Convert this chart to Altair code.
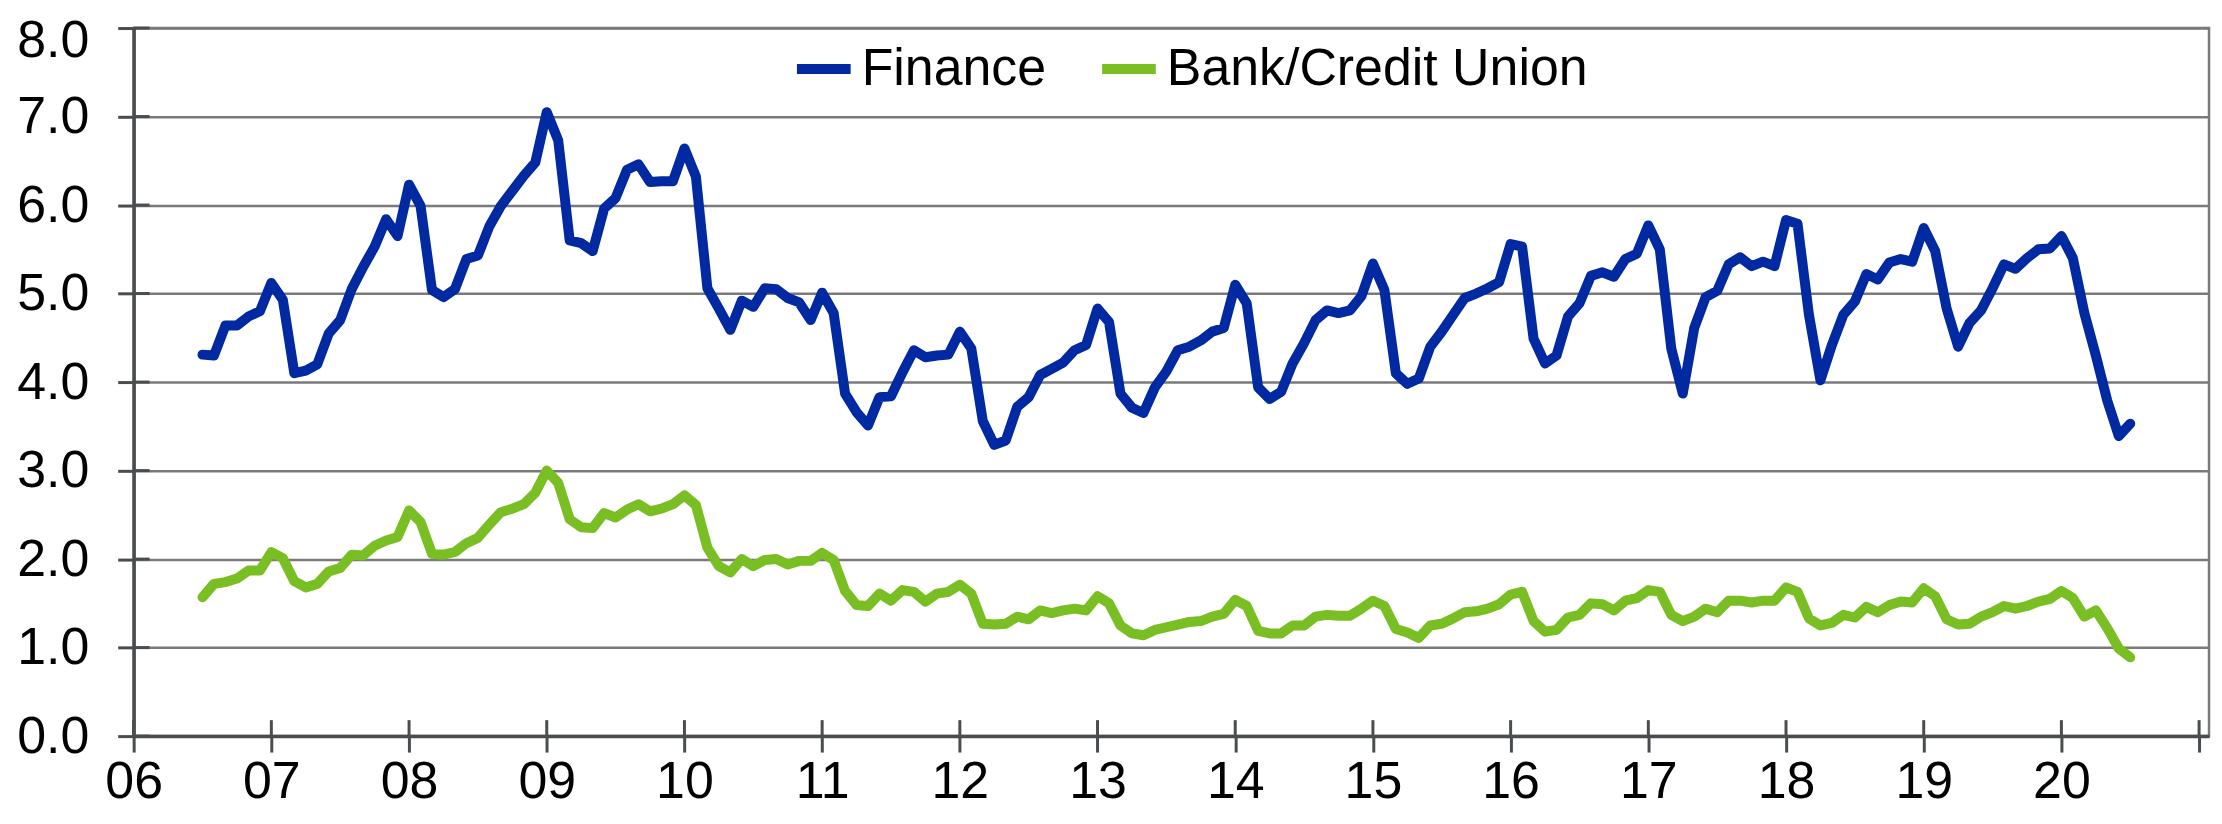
import altair as alt
import pandas as pd

# ---- data (monthly, Jul 2006 .. Jul 2020) ----
series_names = ["Finance", "Bank/Credit Union"]
series_colors = ["#0029A2", "#79BE22"]
start_year, start_month = 2006, 7

finance = [
    4.31, 4.30, 4.64, 4.64, 4.74, 4.80, 5.12, 4.93, 4.10, 4.13, 4.20, 4.55,
    4.70, 5.05, 5.30, 5.53, 5.84, 5.65, 6.23, 5.99, 5.04, 4.96, 5.05, 5.39,
    5.43, 5.76, 5.99, 6.16, 6.33, 6.48, 7.05, 6.73, 5.60, 5.57, 5.48, 5.96,
    6.08, 6.40, 6.46, 6.26, 6.27, 6.27, 6.64, 6.32, 5.06, 4.83, 4.59, 4.92,
    4.85, 5.06, 5.05, 4.95, 4.90, 4.70, 5.01, 4.78, 3.87, 3.66, 3.51, 3.83,
    3.84, 4.11, 4.36, 4.28, 4.30, 4.31, 4.57, 4.38, 3.56, 3.29, 3.34, 3.72,
    3.83, 4.08, 4.15, 4.22, 4.36, 4.42, 4.83, 4.68, 3.87, 3.71, 3.65, 3.94,
    4.12, 4.36, 4.40, 4.47, 4.57, 4.61, 5.10, 4.89, 3.94, 3.81, 3.89, 4.21,
    4.44, 4.70, 4.81, 4.78, 4.81, 4.97, 5.34, 5.04, 4.10, 3.98, 4.04, 4.40,
    4.57, 4.76, 4.95, 5.00, 5.06, 5.13, 5.56, 5.53, 4.49, 4.21, 4.30, 4.74,
    4.89, 5.20, 5.24, 5.19, 5.39, 5.45, 5.77, 5.50, 4.38, 3.87, 4.61, 4.96,
    5.03, 5.33, 5.41, 5.31, 5.36, 5.31, 5.83, 5.79, 4.76, 4.02, 4.42, 4.76,
    4.91, 5.22, 5.16, 5.35, 5.39, 5.36, 5.74, 5.48, 4.83, 4.40, 4.67, 4.81,
    5.06, 5.33, 5.28, 5.40, 5.50, 5.51, 5.65, 5.40, 4.78, 4.30, 3.79, 3.39, 3.53,
]

bank = [
    1.57, 1.72, 1.74, 1.78, 1.87, 1.87, 2.08, 2.01, 1.75, 1.68, 1.72, 1.86,
    1.90, 2.05, 2.04, 2.15, 2.21, 2.25, 2.55, 2.42, 2.06, 2.05, 2.08, 2.18,
    2.24, 2.39, 2.53, 2.57, 2.62, 2.75, 3.00, 2.86, 2.45, 2.36, 2.35, 2.52,
    2.47, 2.56, 2.62, 2.54, 2.57, 2.62, 2.72, 2.61, 2.13, 1.92, 1.85, 2.00,
    1.92, 1.99, 2.00, 1.94, 1.98, 1.98, 2.07, 1.99, 1.64, 1.48, 1.47, 1.61,
    1.53, 1.65, 1.63, 1.52, 1.61, 1.63, 1.71, 1.61, 1.27, 1.26, 1.27, 1.35,
    1.32, 1.42, 1.39, 1.42, 1.44, 1.42, 1.58, 1.50, 1.25, 1.16, 1.14, 1.20,
    1.23, 1.26, 1.29, 1.30, 1.35, 1.38, 1.54, 1.47, 1.19, 1.16, 1.16, 1.25,
    1.25, 1.35, 1.37, 1.36, 1.36, 1.44, 1.53, 1.47, 1.21, 1.17, 1.11, 1.25,
    1.27, 1.33, 1.40, 1.41, 1.44, 1.49, 1.60, 1.63, 1.30, 1.18, 1.20, 1.34,
    1.37, 1.50, 1.49, 1.42, 1.53, 1.56, 1.65, 1.63, 1.37, 1.30, 1.35, 1.44,
    1.40, 1.53, 1.53, 1.51, 1.53, 1.53, 1.68, 1.63, 1.33, 1.25, 1.28, 1.37,
    1.34, 1.46, 1.40, 1.48, 1.52, 1.51, 1.67, 1.58, 1.32, 1.26, 1.27, 1.35,
    1.40, 1.47, 1.44, 1.47, 1.52, 1.55, 1.64, 1.56, 1.35, 1.42, 1.22, 0.99, 0.89,
]

year_ticks = list(range(2006, 2022))
y_ticks = [0, 1, 2, 3, 4, 5, 6, 7, 8]

n = len(finance)
t = [start_year + (start_month - 1) / 12 + k / 12 for k in range(n)]
df = pd.DataFrame({
    "t": t + t,
    "value": finance + bank,
    "series": [series_names[0]] * n + [series_names[1]] * n,
})

W, H = 2081, 710
AX = "#4a4d50"
GRID = "#7a7a7a"
FONT = "Liberation Sans"

x_scale = alt.Scale(domain=[2006, 2021.072], nice=False, zero=False)
y_scale = alt.Scale(domain=[0, 8], nice=False, zero=True)

lines = alt.Chart(df).mark_line(strokeWidth=10, strokeCap="round", strokeJoin="round").encode(
    x=alt.X("t:Q", scale=x_scale, title=None,
            axis=alt.Axis(values=year_ticks, grid=False,
                          labelExpr="datum.value >= 2021 ? '' : slice(toString(datum.value), 2)",
                          labelPadding=5, labelFlush=False, labelOverlap=False)),
    y=alt.Y("value:Q", scale=y_scale, title=None,
            axis=alt.Axis(values=y_ticks, format=".1f", grid=True, labelPadding=29,
                          labelOffset={"condition": {"test": "datum.value >= 8", "value": 13},
                                       "value": 0})),
    color=alt.Color("series:N",
                    scale=alt.Scale(domain=series_names, range=series_colors),
                    legend=alt.Legend(orient="none", legendX=660, legendY=9,
                                      direction="horizontal", title=None,
                                      symbolType="stroke", symbolSize=2900,
                                      symbolStrokeWidth=10, labelFontSize=52,
                                      labelFont=FONT, labelColor="#000000",
                                      labelLimit=1000, labelOffset=6,
                                      columnPadding=36, padding=0)),
)

# inward halves of the crossing tick marks (same field names, no axis override)
xticks_in = alt.Chart(pd.DataFrame({"t": year_ticks})).mark_rule(color=AX, strokeWidth=3).encode(
    x=alt.X("t:Q", scale=x_scale, title=None),
    y=alt.value(H - 16),
    y2=alt.value(H),
)

yticks_in = alt.Chart(pd.DataFrame({"value": y_ticks})).mark_rule(color=AX, strokeWidth=3).encode(
    y=alt.Y("value:Q", scale=y_scale, title=None),
    x=alt.value(0),
    x2=alt.value(16),
)

chart = alt.layer(lines, xticks_in, yticks_in).properties(
    width=W, height=H,
    autosize=alt.AutoSizeParams(type="none"),
    padding={"left": 126, "top": 19, "right": 5, "bottom": 75},
).configure_view(
    stroke=GRID, strokeWidth=2.5
).configure_axis(
    domainColor=AX, domainWidth=3.5, tickColor=AX, tickWidth=3, tickSize=16,
    labelFont=FONT, labelFontSize=52, labelColor="#000000",
    gridColor=GRID, gridWidth=2.5,
)

chart.save("out.html", embed_options={"renderer": "svg", "actions": False})
